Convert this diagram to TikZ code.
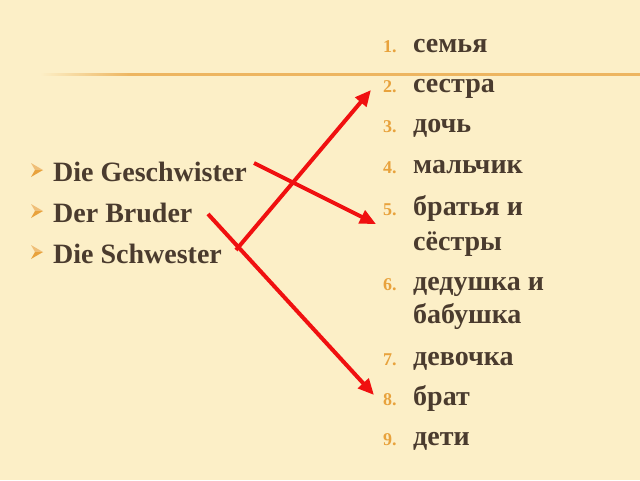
\documentclass[tikz,border=0pt]{standalone}
\usepackage{fontspec}
\setmainfont{Liberation Serif}
\usetikzlibrary{arrows.meta}
\definecolor{paper}{HTML}{FCEFC7}
\definecolor{ink}{HTML}{4A3B2E}
\definecolor{accent}{HTML}{E8A23C}
\definecolor{rule}{HTML}{EDB560}
\definecolor{linkred}{HTML}{F01010}

\begin{document}
\begin{tikzpicture}[x=1pt,y=-1pt,>={Triangle[length=16pt,width=14pt]},
  word/.style={anchor=base west,inner sep=0pt,text=ink,font=\fontsize{28}{34}\selectfont\bfseries},
  num/.style={anchor=base west,inner sep=0pt,text=accent,font=\fontsize{18}{21}\selectfont\bfseries},
  link/.style={->,draw=linkred,fill=linkred,line width=4pt}]
\fill[paper] (0,0) rectangle (640,480);
\shade[left color=paper,right color=rule] (40,73) rectangle (130,75.5);
\fill[rule] (130,73) rectangle (640,75.5);

% left list
\node[word] (g) at (53,181) {Die Geschwister};
\node[word] (b) at (53,222) {Der Bruder};
\node[word] (s) at (53,263) {Die Schwester};
\foreach \y in {181,222,263}{
  \fill[accent!70!white] (31,\y-18) -- (43,\y-11) -- (35,\y-11) -- cycle;
  \fill[accent] (35,\y-11) -- (43,\y-11) -- (31,\y-4) -- cycle;
}

% right list
\foreach \k/\y/\w in {1/52/семья,2/92/сестра,3/132/дочь,4/173/мальчик,5/215/братья и,6/290/дедушка и,7/365/девочка,8/405/брат,9/445/дети}{
  \node[num] (n\k) at (383,\y) {\k.};
  \node[word] (w\k) at (413,\y) {\w};
}
\node[word] (w5b) at (413,250) {сёстры};
\node[word] (w6b) at (413,323) {бабушка};

\coordinate (gs) at (254,163);
\coordinate (br) at (208,214);
\coordinate (sw) at (236,250);
\coordinate (t2) at (371,90);
\coordinate (t5) at (376,224);
\coordinate (t8) at (374,395);

\draw[link] (gs) -- (t5);
\draw[link] (br) -- (t8);
\draw[link] (sw) -- (t2);

\end{tikzpicture}
\end{document}
